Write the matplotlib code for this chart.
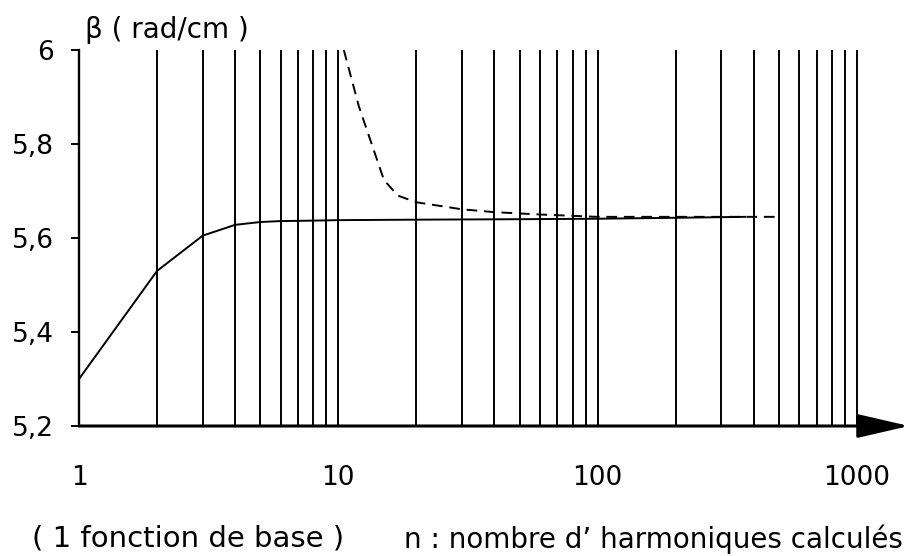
import matplotlib
matplotlib.use('Agg')
from matplotlib import pyplot as plt

plt.rcParams['font.family'] = ['DejaVu Sans']

# converged propagation constant vs number of harmonics
n_solid = [1, 2, 3, 4, 5, 6, 8, 10, 20, 50, 100, 200, 370]
beta_solid = [5.30, 5.53, 5.605, 5.628, 5.634, 5.636, 5.637, 5.638, 5.639, 5.640, 5.641, 5.643, 5.645]

# single-basis-function approach, starting above the frame at n ~ 10
n_dash = [10.5, 12, 15, 17, 20, 30, 40, 60, 100, 200, 370, 500]
beta_dash = [6.0, 5.88, 5.723, 5.69, 5.676, 5.661, 5.655, 5.65, 5.645, 5.645, 5.645, 5.645]

y_ticks = [5.2, 5.4, 5.6, 5.8, 6.0]
y_tick_labels = ['5,2', '5,4', '5,6', '5,8', '6']
x_ticks = [1, 10, 100, 1000]
x_tick_labels = ['1', '10', '100', '1000']

grid_n = [k * 10 ** d for d in range(3) for k in range(2, 10)] + [10, 100, 1000]

x_right = 10 ** (3 * 830 / 778)

fig = plt.figure(figsize=(9.11, 5.56), dpi=100)
ax = fig.add_axes([79 / 911, 130 / 556, 830 / 911, 376 / 556])
ax.set_xscale('log')
ax.set_xlim(1, x_right)
ax.set_ylim(5.2, 6.0)

for n in grid_n:
    ax.plot([n, n], [5.2, 6.0], color='black', lw=1.4)

ax.plot(n_solid, beta_solid, color='black', lw=1.4)
ax.plot(n_dash, beta_dash, color='black', lw=1.4, ls=(0, (5.5, 3.5)))

for s in ['top', 'right', 'bottom']:
    ax.spines[s].set_visible(False)
ax.spines['left'].set_linewidth(1.7)

ax.annotate('', xy=(x_right, 5.2), xytext=(1, 5.2),
            xycoords='data', annotation_clip=False,
            arrowprops=dict(arrowstyle='-|>,head_length=1.6,head_width=0.37',
                            mutation_scale=20, lw=2.2, color='black',
                            shrinkA=0, shrinkB=0))

ax.set_yticks(y_ticks)
ax.set_yticklabels(y_tick_labels, fontsize=19)
ax.tick_params(axis='y', length=6, width=1.4, pad=12)
ax.set_xticks(x_ticks)
ax.set_xticklabels(x_tick_labels, fontsize=19)
ax.tick_params(axis='x', length=0, pad=28)
ax.minorticks_off()

fig.text(85 / 911, 1 - 30 / 556, 'β ( rad/cm )', fontsize=20, va='center', ha='left')
fig.text(32 / 911, 1 - 539 / 556, '( 1 fonction de base )', fontsize=21, va='center', ha='left')
fig.text(903 / 911, 1 - 539 / 556, "n : nombre d’ harmoniques calculés", fontsize=20,
         va='center', ha='right')

fig.savefig('out.png', dpi=100)
